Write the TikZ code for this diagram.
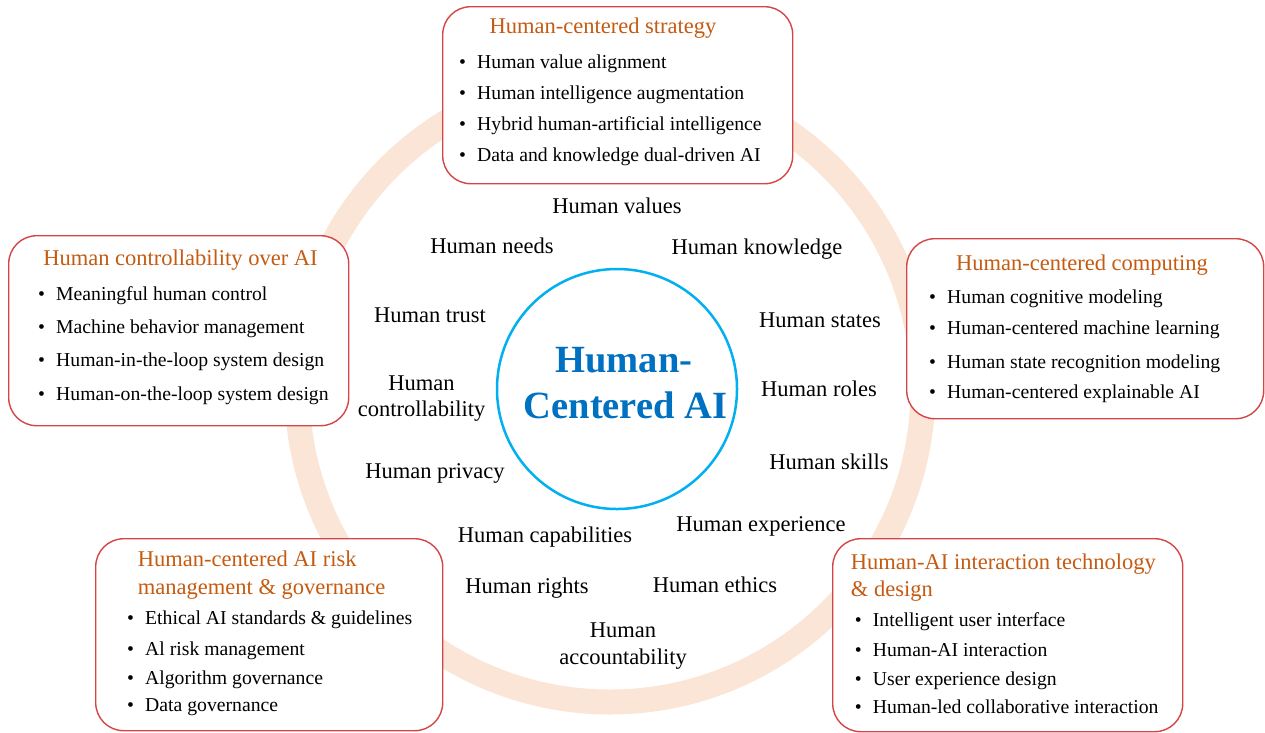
\documentclass[tikz,border=0pt]{standalone}
\usepackage{fontspec}
\setmainfont{Liberation Serif}
\usetikzlibrary{positioning}
\definecolor{ringpeach}{RGB}{251,229,214}
\definecolor{hubblue}{RGB}{0,176,240}
\definecolor{hubtext}{RGB}{0,112,192}
\definecolor{boxred}{RGB}{212,70,70}
\definecolor{titlebrown}{RGB}{197,90,17}
\newcommand{\itemdot}{\makebox[18pt][l]{\textbullet}}

\begin{document}
\begin{tikzpicture}[x=1pt,y=-1pt]
  \tikzstyle{panel}=[draw=boxred,line width=1.4pt,fill=white,rounded corners=28pt,
                     anchor=north west,inner sep=0pt]
  \tikzstyle{heading}=[text=titlebrown,font=\fontsize{22.5}{27}\selectfont,inner sep=0pt]
  \tikzstyle{bulletline}=[font=\fontsize{19.7}{24}\selectfont,inner sep=0pt,anchor=base west]
  \tikzstyle{factor}=[font=\fontsize{22.5}{27}\selectfont,inner sep=0pt,anchor=base]
  \tikzstyle{hubword}=[font=\bfseries\fontsize{38.5}{46}\selectfont,text=hubtext,
                       inner sep=0pt,anchor=base]

  \useasboundingbox (0,0) rectangle (1265,732);

  % ring and hub
  \draw[ringpeach,line width=25pt] (610,389) circle [radius=313];
  \node[circle,draw=hubblue,line width=2.5pt,fill=white,minimum size=240pt,
        inner sep=0pt] (hub) at (617,389) {};
  \node[hubword] (hub-a) at (624,372) {Human-};
  \node[hubword] (hub-b) at (625.5,418) {Centered AI};

  % human factors round the hub
  \node[factor] (values)    at (617,213) {Human values};
  \node[factor] (needs)     at (492,253) {Human needs};
  \node[factor] (knowledge) at (757,254) {Human knowledge};
  \node[factor] (trust)     at (430,322) {Human trust};
  \node[factor] (states)    at (820,327) {Human states};
  \node[factor] (control-a) at (421.5,390) {Human};
  \node[factor] (control-b) at (421.5,416) {controllability};
  \node[factor] (roles)     at (819,396) {Human roles};
  \node[factor] (privacy)   at (435,478) {Human privacy};
  \node[factor] (skills)    at (829,469) {Human skills};
  \node[factor] (capab)     at (545,542) {Human capabilities};
  \node[factor] (experience) at (761,531) {Human experience};
  \node[factor] (rights)    at (527,593) {Human rights};
  \node[factor] (ethics)    at (715,592) {Human ethics};
  \node[factor] (account-a) at (623,637) {Human};
  \node[factor] (account-b) at (623,664) {accountability};

  % panels
  \node[panel,minimum width=350pt,minimum height=177pt] (strategy)    at (442,6) {};
  \node[panel,minimum width=340pt,minimum height=190pt] (control)     at (8,235) {};
  \node[panel,minimum width=357pt,minimum height=180pt] (computing)   at (906,238) {};
  \node[panel,minimum width=347pt,minimum height=192pt] (risk)        at (95,538) {};
  \node[panel,minimum width=350pt,minimum height=193pt] (interaction) at (832,538) {};

  \node[heading,anchor=base] (strategy-t) at (603,33) {Human-centered strategy};
  \node[heading,anchor=base] (control-t) at (180.5,265) {Human controllability over AI};
  \node[heading,anchor=base] (computing-t) at (1082,270) {Human-centered computing};
  \node[heading,anchor=base west] (risk-t1) at (137.7,566.7) {Human-centered AI risk};
  \node[heading,anchor=base west] (risk-t2) at (137.7,594.3) {management \& governance};
  \node[heading,anchor=base west] (interaction-t1) at (850.7,569) {Human-AI interaction technology};
  \node[heading,anchor=base west] (interaction-t2) at (850.7,596.7) {\& design};

  \foreach \y/\txt [count=\i] in {68/Human value alignment,
      99/Human intelligence augmentation,
      130/Hybrid human-artificial intelligence,
      161/Data and knowledge dual-driven AI}
    \node[bulletline] (strategy-\i) at (459,\y) {\itemdot\txt};
  \foreach \y/\txt [count=\i] in {300/Meaningful human control,
      333.3/Machine behavior management,
      366.7/Human-in-the-loop system design,
      400.7/Human-on-the-loop system design}
    \node[bulletline] (control-\i) at (38,\y) {\itemdot\txt};
  \foreach \y/\txt [count=\i] in {303.5/Human cognitive modeling,
      334.5/Human-centered machine learning,
      368.5/Human state recognition modeling,
      398.5/Human-centered explainable AI}
    \node[bulletline] (computing-\i) at (929,\y) {\itemdot\txt};
  \foreach \y/\txt [count=\i] in {624.3/Ethical AI standards \& guidelines,
      655.7/Al risk management,
      684.3/Algorithm governance,
      711.7/Data governance}
    \node[bulletline] (risk-\i) at (127,\y) {\itemdot\txt};
  \foreach \y/\txt [count=\i] in {626.7/Intelligent user interface,
      656/Human-AI interaction,
      685/User experience design,
      713.3/Human-led collaborative interaction}
    \node[bulletline] (interaction-\i) at (854.7,\y) {\itemdot\txt};
\end{tikzpicture}
\end{document}
